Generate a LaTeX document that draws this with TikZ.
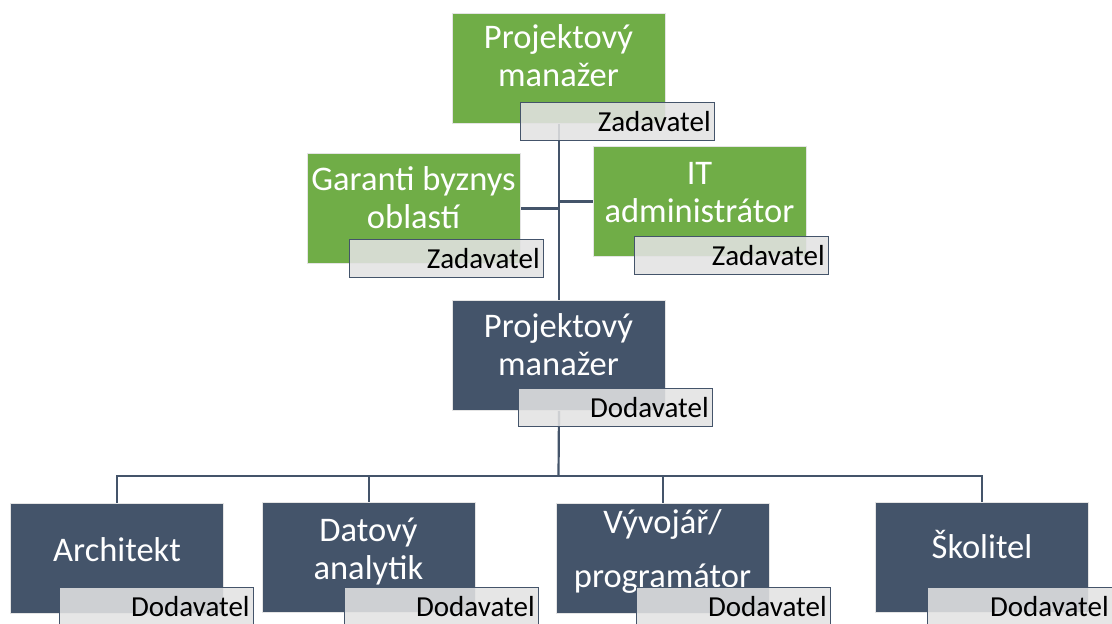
\documentclass[tikz,border=0pt]{standalone}
\usepackage{fontspec}
\setmainfont{Carlito}
\pgfdeclarelayer{bg}
\pgfsetlayers{bg,main}
\definecolor{grn}{HTML}{70AD47}
\definecolor{navy}{HTML}{44546A}
\definecolor{lbl}{HTML}{E2E2E2}
\definecolor{rim}{HTML}{E4E4E4}
\tikzset{
  box/.style={draw=rim, line width=1pt, inner sep=0pt, minimum width=213pt, minimum height=110pt, anchor=north west},
  gbox/.style={box, fill=grn},
  bbox/.style={box, fill=navy},
  btext/.style={text=white, font=\fontsize{34.5}{38}\selectfont, align=center, inner sep=0pt},
  tag/.style={draw=navy, line width=1.3pt, fill=lbl, fill opacity=0.88, text opacity=1,
    minimum width=194pt, minimum height=38pt, inner sep=0pt, font=\fontsize{29}{31}\selectfont,
    text=black, anchor=north west, align=right, text width=186pt},
  conn/.style={draw=navy, line width=2.2pt},
}
\begin{document}
\begin{tikzpicture}[x=1pt,y=-1pt]
\useasboundingbox (0,0) rectangle (1112,624);
\clip (0,0) rectangle (1112,624);
% top level
\node[gbox] (pm1) at (452,13) {};
\node[btext] (pm1t) at (558.5,56) {Projektový\\manažer};
\node[tag] (pm1l) at (520,102) {Zadavatel};
% garanti
\node[gbox] (ga) at (307,153) {};
\node[btext] (gat) at (413.5,198) {Garanti byznys\\oblastí};
\node[tag] (gal) at (349,239) {Zadavatel};
% IT
\node[gbox] (it) at (593,146) {};
\node[btext] (itt) at (699.5,193) {IT\\administrátor};
\node[tag] (itl) at (634,236) {Zadavatel};
% PM dodavatel
\node[bbox] (pm2) at (452,300) {};
\node[btext] (pm2t) at (558.5,345) {Projektový\\manažer};
\node[tag] (pm2l) at (518,388) {Dodavatel};
% bottom row
\node[bbox] (ar) at (10,503) {};
\node[btext] (art) at (117,550) {Architekt};
\node[tag] (arl) at (59,587) {Dodavatel};
\node[bbox] (da) at (262,502) {};
\node[btext] (dat) at (368.5,551) {Datový\\analytik};
\node[tag] (dal) at (344,587) {Dodavatel};
\node[bbox] (vy) at (556,503) {};
\node[btext] (vyt) at (662.5,551) {Vývojář/\\[16pt]programátor};
\node[tag] (vyl) at (636,587) {Dodavatel};
\node[bbox] (sk) at (875,502) {};
\node[btext] (skt) at (982,545) {Školitel};
\node[tag, text width=168pt] (skl) at (927,587) {Dodavatel};
% connectors
\coordinate (bus) at (558.5,476);
\begin{pgfonlayer}{bg}
\draw[conn] (pm1.south) -- (pm2.north);
\draw[conn] (ga.east) -- (ga.east -| pm1.south);
\draw[conn] (it.west) -- (it.west -| pm1.south);
\draw[conn] (pm2.south) -- (bus);
\draw[conn] (ar.north) |- (bus) -| (sk.north);
\draw[conn] (da.north) -- (da.north |- bus);
\draw[conn] (vy.north) -- (vy.north |- bus);
\end{pgfonlayer}
\end{tikzpicture}
\end{document}
